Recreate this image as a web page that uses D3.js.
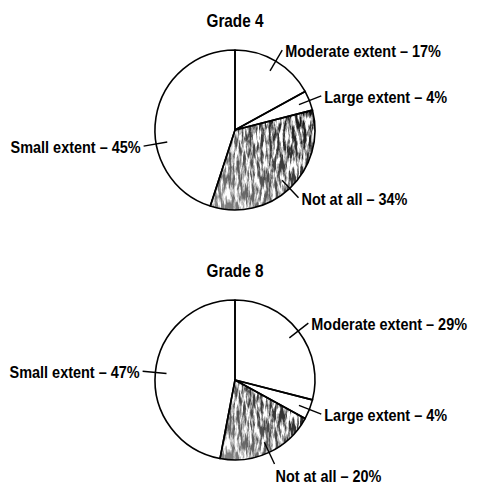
<!DOCTYPE html>
<html>
<head>
<meta charset="utf-8">
<script src="https://cdn.jsdelivr.net/npm/d3@7"></script>
<style>
  body { margin: 0; background: #fff; }
  text { font-family: "Liberation Sans", Arial, sans-serif; font-weight: bold; fill: #000; }
</style>
</head>
<body>
<div id="chart"></div>
<script>
const grades = ["Grade 4", "Grade 8"];
const categories = ["Moderate extent", "Large extent", "Not at all", "Small extent"];
const grade4Values = [17, 4, 34, 45];
const grade8Values = [29, 4, 20, 47];
const shadedCategory = "Not at all";

const width = 478;
const height = 485;
const radius = 80;
const cx = 235;
const centersY = [130, 380];
const squeeze = 0.85; // condensed look
// leader tweak (degrees) where the original moved a leader off the bisector
const leaderShift = [{ "Small extent": -19 }, {}];

const svg = d3.select("#chart")
    .append("svg")
    .attr("width", width)
    .attr("height", height);

const defs = svg.append("defs");

// dark-to-light gray base for the shaded slice
const grad = defs.append("linearGradient")
    .attr("id", "shade")
    .attr("x1", "1").attr("y1", "0")
    .attr("x2", "0").attr("y2", "1");
grad.append("stop").attr("offset", "0%").attr("stop-color", "#0c0c0c");
grad.append("stop").attr("offset", "50%").attr("stop-color", "#444");
grad.append("stop").attr("offset", "100%").attr("stop-color", "#8a8a8a");

// white speckles, streaky like a photocopy
const grain = defs.append("filter")
    .attr("id", "grain")
    .attr("x", "0").attr("y", "0")
    .attr("width", "1").attr("height", "1");
grain.append("feTurbulence")
    .attr("type", "fractalNoise")
    .attr("baseFrequency", "0.35 0.07")
    .attr("numOctaves", 4)
    .attr("seed", 7)
    .attr("result", "noise");
grain.append("feColorMatrix")
    .attr("in", "noise")
    .attr("type", "matrix")
    .attr("values", "0 0 0 0 1  0 0 0 0 1  0 0 0 0 1  3.6 0 0 0 -1.35")
    .attr("result", "speck");
grain.append("feComposite")
    .attr("in", "speck")
    .attr("in2", "SourceAlpha")
    .attr("operator", "in");

const pie = d3.pie()
    .sort(null)
    .value(function (d) { return d.value; });

const arc = d3.arc()
    .innerRadius(0)
    .outerRadius(radius);

function point(angle, r) {
    return [Math.sin(angle) * r, -Math.cos(angle) * r];
}

function label(sel, x, y, anchor, size, str) {
    sel.append("text")
        .attr("transform", "translate(" + x + "," + y + ") scale(" + squeeze + ",1)")
        .attr("dy", "0.35em")
        .attr("text-anchor", anchor)
        .style("font-size", size + "px")
        .text(str);
}

[grade4Values, grade8Values].forEach(function (values, i) {
    const data = categories.map(function (c, j) {
        return { key: c, value: values[j] };
    });
    const slices = pie(data);

    const g = svg.append("g")
        .attr("transform", "translate(" + cx + "," + centersY[i] + ")");

    label(g, 0, -radius - 29, "middle", 18, grades[i]);

    g.selectAll(".slice")
        .data(slices)
        .enter()
        .append("path")
        .attr("class", "slice")
        .attr("d", arc)
        .attr("fill", function (d) { return d.data.key === shadedCategory ? "url(#shade)" : "#fff"; });

    g.selectAll(".grain")
        .data(slices.filter(function (d) { return d.data.key === shadedCategory; }))
        .enter()
        .append("path")
        .attr("d", arc)
        .attr("fill", "#fff")
        .attr("filter", "url(#grain)");

    g.selectAll(".edge")
        .data(slices)
        .enter()
        .append("path")
        .attr("d", arc)
        .attr("fill", "none")
        .attr("stroke", "#000")
        .attr("stroke-width", 1.6)
        .attr("stroke-linejoin", "round");

    slices.forEach(function (d) {
        const shift = (leaderShift[i][d.data.key] || 0) * Math.PI / 180;
        const mid = (d.startAngle + d.endAngle) / 2 + shift;
        const p0 = point(mid, radius * 0.86);
        const p1 = point(mid, radius * 1.16);
        const deg = mid * 180 / Math.PI;
        const below = deg > 150 && deg < 210;
        const right = deg < 180;

        g.append("line")
            .attr("x1", p0[0]).attr("y1", p0[1])
            .attr("x2", p1[0]).attr("y2", p1[1])
            .attr("stroke", "#000")
            .attr("stroke-width", 1.4);

        label(g,
            below ? p1[0] + 1 : (right ? p1[0] + 3 : p1[0] - 3),
            below ? p1[1] + 12 : p1[1] + 1,
            below || right ? "start" : "end",
            17,
            d.data.key + " \u2013 " + d.data.value + "%");
    });
});
</script>
</body>
</html>
